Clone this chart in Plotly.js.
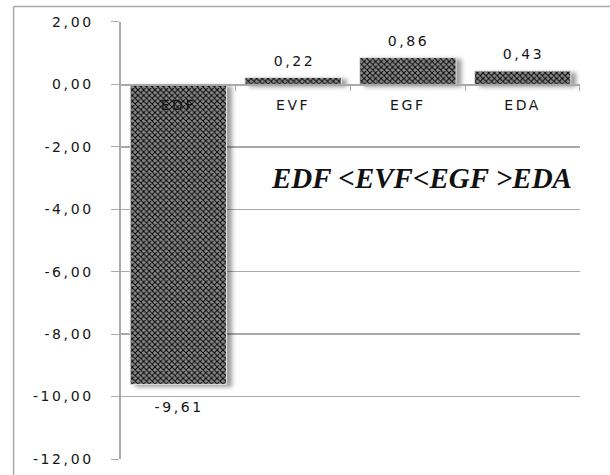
<!DOCTYPE html>
<html>
<head>
<meta charset="utf-8">
<script src="https://cdn.plot.ly/plotly-3.0.1.min.js"></script>
<style>
  html, body { margin: 0; padding: 0; background: #fff; overflow: hidden; }
  #chart { width: 610px; height: 475px; }
  /* wide, airy number and category labels */
  .ytick text, .xtick text, .annotation:not([data-index="0"]) text { letter-spacing: 2.6px; }
  /* soft drop shadow behind each bar */
  .bars .point path { filter: drop-shadow(5px 2px 2px rgba(0,0,0,0.38)); }
</style>
</head>
<body>
<div id="chart"></div>
<script>
// Indicator values per category
const categories = ['EDF', 'EVF', 'EGF', 'EDA'];
const values = [-9.61, 0.22, 0.86, 0.43];
const relation = 'EDF <EVF<EGF >EDA';
const yTickValues = [2, 0, -2, -4, -6, -8, -10, -12];
const yTickLabels = ['2,00', '0,00', '-2,00', '-4,00', '-6,00', '-8,00', '-10,00', '-12,00'];
const yRange = [-12, 2];

// value labels with a comma decimal and a plain hyphen
const valueLabels = values.map(v => v.toFixed(2).replace('.', ','));

const grey = '#a9a9a9';
const textColor = '#151515';
const labelFont = { family: 'DejaVu Sans, Verdana, sans-serif', size: 14, color: textColor };

// plot area inside the framed paper
const xDomain = [0.1809, 0.9497];
const yDomain = [0.0341, 0.9659];
const zeroPos = yDomain[0] + (0 - yRange[0]) / (yRange[1] - yRange[0]) * (yDomain[1] - yDomain[0]);

const bars = {
  type: 'bar',
  x: categories,
  y: values,
  width: 0.84,
  marker: {
    color: '#8a8a8a',
    line: { color: '#e6e6e6', width: 1 },
    pattern: { shape: 'x', fgcolor: '#000000', bgcolor: '#8a8a8a', size: 4, solidity: 0.42, fillmode: 'replace' }
  },
  cliponaxis: false,
  hoverinfo: 'skip'
};

// value labels sit just beyond the end of each bar
const valueAnnotations = categories.map((c, i) => ({
  x: c,
  y: values[i],
  xref: 'x', yref: 'y',
  text: valueLabels[i],
  showarrow: false,
  yanchor: values[i] >= 0 ? 'bottom' : 'top',
  yshift: values[i] >= 0 ? 7 : -13,
  xshift: 1,
  font: labelFont
}));

const layout = {
  width: 610,
  height: 475,
  margin: { l: 13, r: 0, t: 6, b: 0 },
  paper_bgcolor: '#ffffff',
  plot_bgcolor: 'rgba(0,0,0,0)',
  showlegend: false,
  xaxis: {
    type: 'category',
    domain: xDomain,
    range: [-0.5, 3.5],
    anchor: 'free',
    position: zeroPos,
    showgrid: false,
    showline: true,
    linecolor: grey,
    linewidth: 1.5,
    ticks: 'outside',
    tickson: 'boundaries',
    ticklen: 5,
    tickcolor: grey,
    tickfont: labelFont,
    ticklabelstandoff: 7,
    fixedrange: true
  },
  yaxis: {
    domain: yDomain,
    range: yRange,
    anchor: 'x',
    tickmode: 'array',
    tickvals: yTickValues,
    ticktext: yTickLabels,
    showgrid: true,
    gridcolor: grey,
    gridwidth: 1.5,
    zeroline: false,
    showline: true,
    linecolor: grey,
    linewidth: 1.5,
    ticks: 'outside',
    ticklen: 8,
    tickcolor: grey,
    tickfont: labelFont,
    ticklabelstandoff: 15,
    fixedrange: true
  },
  // outer frame: left and top edges
  shapes: [
    { type: 'line', xref: 'paper', yref: 'paper', x0: 0.001, x1: 0.001, y0: 0, y1: 0.999,
      line: { color: grey, width: 1.5 }, layer: 'above' },
    { type: 'line', xref: 'paper', yref: 'paper', x0: 0.001, x1: 1, y0: 0.999, y1: 0.999,
      line: { color: grey, width: 1.5 }, layer: 'above' }
  ],
  annotations: [{
    text: relation,
    xref: 'x', yref: 'y',
    x: 2.12, y: -3.0,
    showarrow: false,
    font: { family: 'Liberation Serif, Times New Roman, serif', size: 29, color: '#111111', weight: 'bold', style: 'italic' }
  }].concat(valueAnnotations)
};

Plotly.newPlot('chart', [bars], layout, { staticPlot: true, displayModeBar: false });
</script>
</body>
</html>
